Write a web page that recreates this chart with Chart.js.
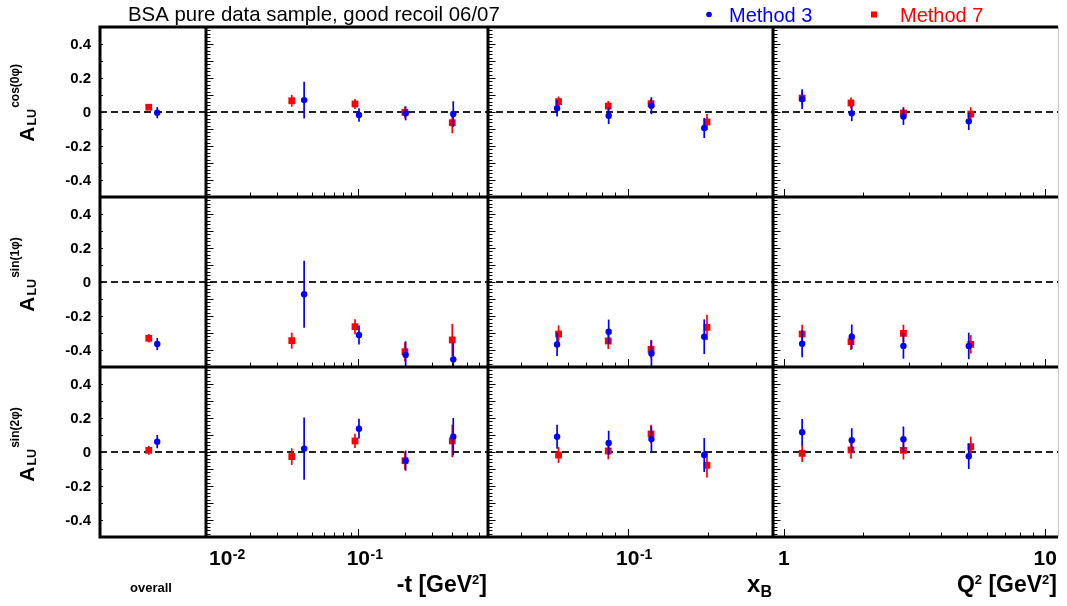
<!DOCTYPE html>
<html>
<head>
<meta charset="utf-8">
<title>BSA pure data sample</title>
<script src="https://cdn.jsdelivr.net/npm/chart.js@4.4.1/dist/chart.umd.min.js"></script>
<style>
  html, body { margin: 0; padding: 0; background: #fff; }
  #wrap { width: 1067px; height: 606px; }
</style>
</head>
<body>
<div id="wrap"><canvas id="bsa" width="1067" height="606"></canvas></div>
<script>
// bin centres, one array per column and method
const overallX3 = [0.54];
const overallX7 = [0.46];
const tX3 = [0.0447, 0.101, 0.202, 0.410];
const tX7 = [0.0372, 0.0952, 0.200, 0.404];
const xbX3 = [0.0545, 0.0849, 0.1226, 0.1930];
const xbX7 = [0.0552, 0.0846, 0.1222, 0.1976];
const q2X3 = [1.174, 1.818, 2.867, 5.10];
const q2X7 = [1.174, 1.806, 2.867, 5.19];

// asymmetry values: [overall, -t bins x4, xB bins x4, Q2 bins x4]
const cos0M3    = [-0.004, 0.070, -0.018, -0.008, -0.012, 0.022, -0.022, 0.037, -0.094, 0.076, -0.008, -0.027, -0.055];
const cos0M3Err = [0.033, 0.108, 0.040, 0.041, 0.075, 0.049, 0.049, 0.050, 0.059, 0.058, 0.046, 0.049, 0.051];
const cos0M7    = [0.028, 0.066, 0.047, -0.002, -0.063, 0.061, 0.035, 0.049, -0.059, 0.082, 0.053, -0.006, -0.012];
const cos0M7Err = [0.015, 0.035, 0.030, 0.035, 0.062, 0.030, 0.030, 0.030, 0.047, 0.037, 0.033, 0.036, 0.040];
const sin1M3    = [-0.365, -0.072, -0.312, -0.429, -0.455, -0.367, -0.292, -0.420, -0.322, -0.363, -0.322, -0.376, -0.376];
const sin1M3Err = [0.036, 0.197, 0.056, 0.080, 0.100, 0.069, 0.071, 0.077, 0.102, 0.080, 0.072, 0.075, 0.078];
const sin1M7    = [-0.331, -0.345, -0.263, -0.410, -0.341, -0.306, -0.347, -0.396, -0.267, -0.306, -0.351, -0.302, -0.367];
const sin1M7Err = [0.025, 0.047, 0.044, 0.056, 0.095, 0.051, 0.047, 0.054, 0.074, 0.054, 0.049, 0.051, 0.054];
const sin2M3    = [0.061, 0.020, 0.137, -0.051, 0.090, 0.090, 0.053, 0.076, -0.018, 0.116, 0.069, 0.075, -0.025];
const sin2M3Err = [0.039, 0.183, 0.058, 0.059, 0.110, 0.071, 0.072, 0.075, 0.100, 0.078, 0.071, 0.075, 0.075];
const sin2M7    = [0.010, -0.027, 0.065, -0.051, 0.065, -0.018, 0.006, 0.106, -0.078, -0.008, 0.012, 0.010, 0.031];
const sin2M7Err = [0.026, 0.049, 0.042, 0.054, 0.096, 0.047, 0.049, 0.054, 0.072, 0.051, 0.051, 0.054, 0.059];

// tick labels
const yTickLabels = [0.4, 0.2, 0, -0.2, -0.4];
const tTickLabels = [0.01, 0.1];
const xbTickLabels = [0.1];
const q2TickLabels = [1, 10];
const rowSuperscripts = ['cos(0φ)', 'sin(1φ)', 'sin(2φ)'];
const seriesNames = ['Method 3', 'Method 7'];

const FONT = '"Liberation Sans", Arial, Helvetica, sans-serif';
const BLUE = '#0000ff';
const RED = '#ff0000';

const colIds = ['xo', 'xt', 'xb', 'xq'];
const rowIds = ['r0', 'r1', 'r2'];
const colStart = [0, 1, 5, 9];
const colX3 = [overallX3, tX3, xbX3, q2X3];
const colX7 = [overallX7, tX7, xbX7, q2X7];
const rowData = [
  [cos0M3, cos0M3Err, cos0M7, cos0M7Err],
  [sin1M3, sin1M3Err, sin1M7, sin1M7Err],
  [sin2M3, sin2M3Err, sin2M7, sin2M7Err]
];

function pts(xs, ys, es, off) {
  return xs.map((x, i) => ({ x: x, y: ys[off + i], err: es[off + i] }));
}

let datasets = [];
rowIds.forEach((rid, r) => {
  const [m3, e3, m7, e7] = rowData[r];
  colIds.forEach((cid, c) => {
    // blue first so it is painted on top
    datasets.push({
      label: seriesNames[0], xAxisID: cid, yAxisID: rid,
      data: pts(colX3[c], m3, e3, colStart[c]),
      pointStyle: 'circle', pointRadius: 3.2, pointBorderWidth: 0,
      backgroundColor: BLUE, borderColor: BLUE
    });
    datasets.push({
      label: seriesNames[1], xAxisID: cid, yAxisID: rid,
      data: pts(colX7[c], m7, e7, colStart[c]),
      pointStyle: 'rect', pointRadius: 4.8, pointBorderWidth: 0,
      backgroundColor: RED, borderColor: RED
    });
  });
});

function logTicks(min, max) {
  const out = [];
  for (let e = Math.floor(Math.log10(min)); e <= Math.ceil(Math.log10(max)); e++) {
    for (let k = 1; k <= 9; k++) {
      const v = k * Math.pow(10, e);
      if (v >= min * 0.999 && v <= max * 1.001) out.push({ v: v, major: k === 1 });
    }
  }
  return out;
}

function expLabel(ctx, v, px, minLeft, baseline) {
  // "10" with exponent, or plain number
  const e = Math.round(Math.log10(v));
  ctx.textAlign = 'left';
  ctx.textBaseline = 'alphabetic';
  ctx.font = 'bold 21px ' + FONT;
  if (e >= 0) {
    const s = String(v);
    const w = ctx.measureText(s).width;
    ctx.fillText(s, Math.max(px - w / 2, minLeft), baseline);
    return;
  }
  const w = ctx.measureText('10').width;
  const x = Math.max(px - w / 2, minLeft);
  ctx.fillText('10', x, baseline);
  ctx.font = 'bold 14px ' + FONT;
  ctx.fillText(String(e), x + w + 0.5, baseline - 6);
}

function richRight(ctx, parts, right, baseline) {
  let total = 0;
  parts.forEach(p => { ctx.font = p.f; p.w = ctx.measureText(p.t).width; total += p.w; });
  let x = right - total;
  ctx.textAlign = 'left';
  ctx.textBaseline = 'alphabetic';
  parts.forEach(p => { ctx.font = p.f; ctx.fillText(p.t, x, baseline + (p.dy || 0)); x += p.w; });
}

const errorBars = {
  id: 'errorBars',
  beforeDatasetDraw(chart, args) {
    const ds = chart.data.datasets[args.index];
    const xs = chart.scales[ds.xAxisID];
    const ys = chart.scales[ds.yAxisID];
    const ctx = chart.ctx;
    ctx.save();
    ctx.beginPath();
    ctx.rect(xs.left, ys.top, xs.right - xs.left, ys.bottom - ys.top);
    ctx.clip();
    ctx.strokeStyle = ds.backgroundColor;
    ctx.lineWidth = 1.7;
    ds.data.forEach(p => {
      const x = xs.getPixelForValue(p.x);
      ctx.beginPath();
      ctx.moveTo(x, ys.getPixelForValue(p.y - p.err));
      ctx.lineTo(x, ys.getPixelForValue(p.y + p.err));
      ctx.stroke();
    });
    ctx.restore();
  },
  beforeDatasetsDraw(chart) {
    const ctx = chart.ctx;
    const area = chart.chartArea;
    ctx.save();
    ctx.strokeStyle = '#222';
    ctx.lineWidth = 2;
    ctx.setLineDash([7, 4]);
    rowIds.forEach(rid => {
      const y = Math.round(chart.scales[rid].getPixelForValue(0));
      ctx.beginPath();
      ctx.moveTo(area.left, y);
      ctx.lineTo(area.right, y);
      ctx.stroke();
    });
    ctx.restore();
  }
};

const rootFrame = {
  id: 'rootFrame',
  afterDraw(chart) {
    const ctx = chart.ctx;
    const area = chart.chartArea;
    const S = chart.scales;
    ctx.save();
    ctx.fillStyle = '#000';
    ctx.strokeStyle = '#000';

    // ticks
    ctx.lineWidth = 1;
    rowIds.forEach(rid => {
      const ys = S[rid];
      colIds.forEach((cid, c) => {
        const xs = S[cid];
        for (let i = -25; i <= 25; i++) {
          const v = i / 50;
          const y = Math.round(ys.getPixelForValue(v)) + 0.5;
          const major = i % 5 === 0;
          const len = c === 0 ? (major ? 3 : 1) : (major ? 7.5 : 4.5);
          ctx.beginPath();
          ctx.moveTo(xs.left, y);
          ctx.lineTo(xs.left + len, y);
          ctx.stroke();
        }
        if (c > 0) {
          logTicks(xs.min, xs.max).forEach(t => {
            const x = Math.round(xs.getPixelForValue(t.v)) + 0.5;
            ctx.beginPath();
            ctx.moveTo(x, ys.bottom);
            ctx.lineTo(x, ys.bottom - (t.major ? 8 : 4.5));
            ctx.stroke();
          });
        }
      });
    });

    // frames
    ctx.lineWidth = 3;
    ctx.beginPath();
    rowIds.forEach(rid => {
      ctx.moveTo(area.left - 1.5, S[rid].top);
      ctx.lineTo(S.xq.right, S[rid].top);
    });
    ctx.moveTo(area.left - 1.5, area.bottom);
    ctx.lineTo(S.xq.right, area.bottom);
    colIds.forEach(cid => {
      ctx.moveTo(S[cid].left, area.top);
      ctx.lineTo(S[cid].left, area.bottom);
    });
    ctx.stroke();
    ctx.lineWidth = 1;
    ctx.strokeStyle = '#c8c8c8';
    ctx.beginPath();
    ctx.moveTo(S.xq.right + 0.5, area.top);
    ctx.lineTo(S.xq.right + 0.5, area.bottom);
    ctx.stroke();

    // y tick labels and row titles
    rowIds.forEach((rid, r) => {
      const ys = S[rid];
      ctx.font = 'bold 15px ' + FONT;
      ctx.textAlign = 'right';
      ctx.textBaseline = 'middle';
      yTickLabels.forEach(v => {
        ctx.fillText(v === 0 ? '0' : v.toFixed(1), 91, ys.getPixelForValue(v) + 1);
      });
      const cy = ys.getPixelForValue(0);
      ctx.save();
      ctx.translate(33.5, cy + 29.7);
      ctx.rotate(-Math.PI / 2);
      ctx.textAlign = 'left';
      ctx.textBaseline = 'alphabetic';
      ctx.font = 'bold 21px ' + FONT;
      ctx.fillText('A', 0, 0);
      const wA = ctx.measureText('A').width;
      ctx.font = 'bold 12.5px ' + FONT;
      ctx.fillText('LU', wA + 1, 2);
      const wLU = ctx.measureText('LU').width;
      ctx.font = 'bold 12px ' + FONT;
      ctx.fillText(rowSuperscripts[r], wA + wLU + 2, -15);
      ctx.restore();
    });

    // x tick labels
    const base = area.bottom + 28;
    tTickLabels.forEach(v => expLabel(ctx, v, S.xt.getPixelForValue(v), S.xt.left + 3, base));
    xbTickLabels.forEach(v => expLabel(ctx, v, S.xb.getPixelForValue(v), S.xb.left + 3, base));
    ctx.save();
    ctx.beginPath();
    ctx.rect(0, 0, S.xq.right + 1, chart.height);
    ctx.clip();
    q2TickLabels.forEach(v => expLabel(ctx, v, S.xq.getPixelForValue(v), S.xq.left + 3, base));
    ctx.restore();

    // axis titles
    const tb = area.bottom + 55;
    const big = 'bold 23px ' + FONT;
    const sup = 'bold 13px ' + FONT;
    richRight(ctx, [{ t: '-t [GeV', f: big }, { t: '2', f: sup, dy: -8 }, { t: ']', f: big }], S.xt.right - 1, tb);
    richRight(ctx, [{ t: 'x', f: 'bold 24px ' + FONT }, { t: 'B', f: 'bold 16px ' + FONT, dy: 5 }], S.xb.right - 1, tb);
    richRight(ctx, [{ t: 'Q', f: big }, { t: '2', f: sup, dy: -8 }, { t: ' [GeV', f: big }, { t: '2', f: sup, dy: -8 }, { t: ']', f: big }], S.xq.right - 1, tb);
    ctx.font = 'bold 13px ' + FONT;
    ctx.textAlign = 'center';
    ctx.fillText('overall', (S.xo.left + S.xo.right) / 2 - 2, tb);

    // title and legend
    ctx.textAlign = 'left';
    ctx.textBaseline = 'alphabetic';
    ctx.font = '20.4px ' + FONT;
    ctx.fillText('BSA pure data sample, good recoil 06/07', 128, 21);
    ctx.fillStyle = BLUE;
    ctx.beginPath();
    ctx.arc(709, 14.5, 2.8, 0, Math.PI * 2);
    ctx.fill();
    ctx.font = '20px ' + FONT;
    ctx.fillText(seriesNames[0], 729, 21.5);
    ctx.fillStyle = RED;
    ctx.fillRect(871, 11.5, 6, 6);
    ctx.fillText(seriesNames[1], 900, 21.5);
    ctx.restore();
  }
};

const rowScale = (weight) => ({
  type: 'linear', position: 'left', stack: 'rows', stackWeight: 1, weight: weight,
  min: -0.5, max: 0.5, display: false
});

const myChart = new Chart(document.getElementById('bsa'), {
  type: 'scatter',
  data: { datasets: datasets },
  options: {
    responsive: false,
    animation: false,
    layout: { padding: { left: 100, right: 9, top: 27, bottom: 69 } },
    plugins: { legend: { display: false }, tooltip: { enabled: false } },
    scales: {
      xo: { type: 'linear', position: 'bottom', stack: 'cols', stackWeight: 106, weight: 0, min: 0, max: 1, display: false },
      xt: { type: 'logarithmic', position: 'bottom', stack: 'cols', stackWeight: 282, weight: 1, min: 0.0104, max: 0.687, display: false },
      xb: { type: 'logarithmic', position: 'bottom', stack: 'cols', stackWeight: 285, weight: 2, min: 0.0301, max: 0.3485, display: false },
      xq: { type: 'logarithmic', position: 'bottom', stack: 'cols', stackWeight: 285, weight: 3, min: 0.908, max: 11.2, display: false },
      r0: rowScale(2),
      r1: rowScale(1),
      r2: rowScale(0)
    }
  },
  plugins: [errorBars, rootFrame]
});
</script>
</body>
</html>
